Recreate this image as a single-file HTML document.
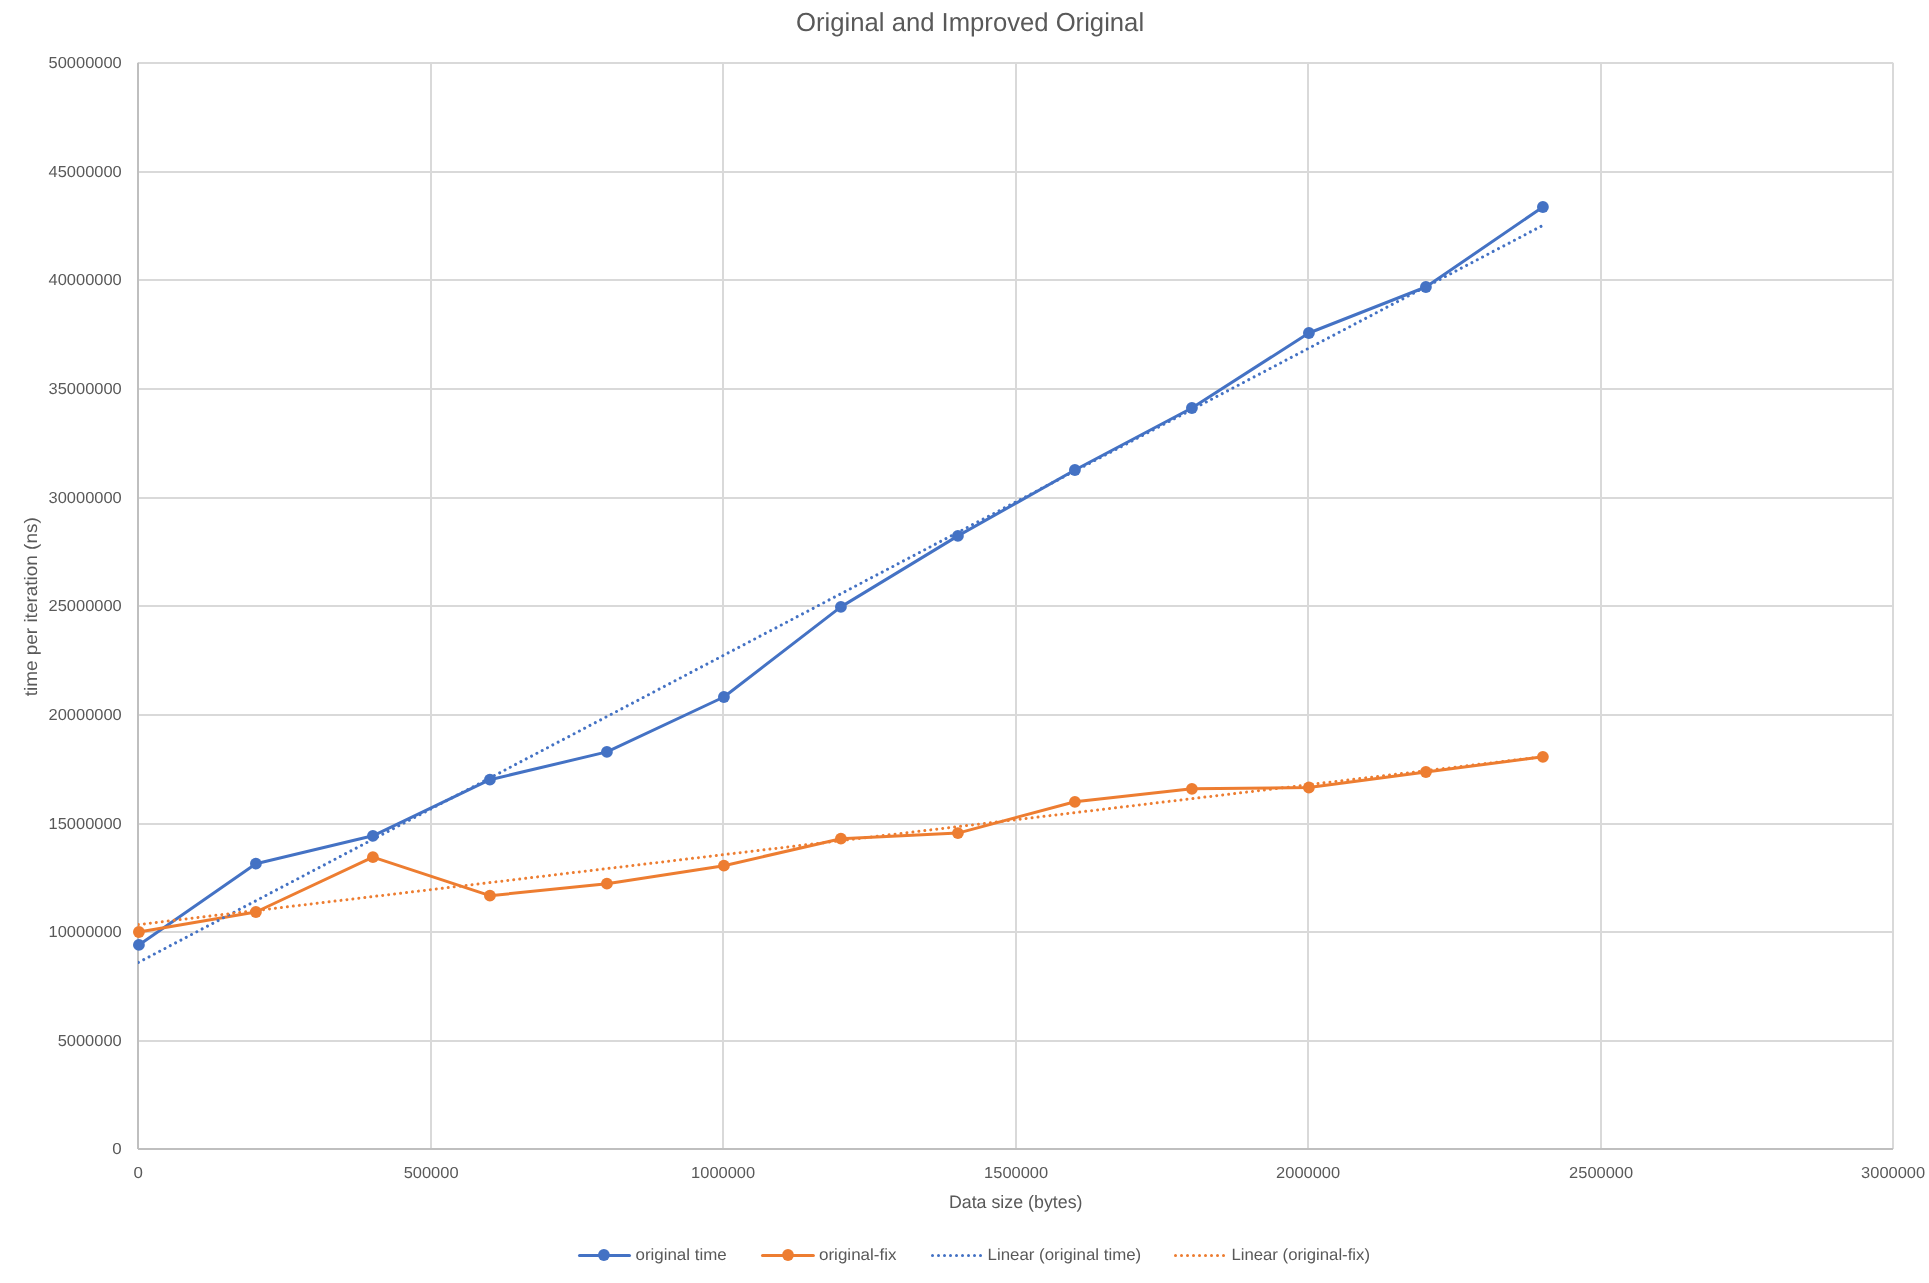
<!DOCTYPE html>
<html lang="en"><head><meta charset="utf-8"><title>Original and Improved Original</title>
<style>
html,body{margin:0;padding:0;background:#fff;}
body{width:1929px;height:1283px;overflow:hidden;}
svg{display:block;will-change:transform;}
text{font-family:"Liberation Sans",sans-serif;fill:#595959;text-rendering:geometricPrecision;}
.tick{font-size:15.9px;}
.atitle{font-size:18px;}
.leg{font-size:16.3px;}
.title{font-size:26px;}
</style></head><body>
<svg width="1929" height="1283" viewBox="0 0 1929 1283">
<rect x="0" y="0" width="1929" height="1283" fill="#ffffff"/>
<g stroke="#d9d9d9" stroke-width="2" fill="none">
<line x1="138.0" y1="1041" x2="1893.0" y2="1041"/>
<line x1="138.0" y1="932" x2="1893.0" y2="932"/>
<line x1="138.0" y1="824" x2="1893.0" y2="824"/>
<line x1="138.0" y1="715" x2="1893.0" y2="715"/>
<line x1="138.0" y1="606" x2="1893.0" y2="606"/>
<line x1="138.0" y1="498" x2="1893.0" y2="498"/>
<line x1="138.0" y1="389" x2="1893.0" y2="389"/>
<line x1="138.0" y1="280" x2="1893.0" y2="280"/>
<line x1="138.0" y1="172" x2="1893.0" y2="172"/>
<line x1="138.0" y1="63" x2="1893.0" y2="63"/>
<line x1="431" y1="62.75" x2="431" y2="1149.0"/>
<line x1="723" y1="62.75" x2="723" y2="1149.0"/>
<line x1="1016" y1="62.75" x2="1016" y2="1149.0"/>
<line x1="1308" y1="62.75" x2="1308" y2="1149.0"/>
<line x1="1601" y1="62.75" x2="1601" y2="1149.0"/>
<line x1="1893" y1="62.75" x2="1893" y2="1149.0"/>
</g>
<g stroke="#bfbfbf" stroke-width="2" fill="none">
<line x1="138.0" y1="62.70" x2="138.0" y2="1149.0"/>
<line x1="138.0" y1="1149.0" x2="1893.0" y2="1149.0"/>
</g>
<defs><clipPath id="pc"><rect x="138" y="60" width="1757" height="1092"/></clipPath></defs>
<polyline fill="none" stroke="#4472c4" stroke-width="3" stroke-linejoin="round" stroke-linecap="round" points="138.9,944.9 255.9,863.7 372.9,835.8 489.9,779.7 606.9,751.9 723.9,697.0 840.9,606.9 957.9,535.9 1074.9,470.0 1191.9,408.0 1308.9,333.0 1425.9,287.0 1542.9,207.0"/>
<g fill="#4472c4">
<circle cx="138.9" cy="944.9" r="5.9"/>
<circle cx="255.9" cy="863.7" r="5.9"/>
<circle cx="372.9" cy="835.8" r="5.9"/>
<circle cx="489.9" cy="779.7" r="5.9"/>
<circle cx="606.9" cy="751.9" r="5.9"/>
<circle cx="723.9" cy="697.0" r="5.9"/>
<circle cx="840.9" cy="606.9" r="5.9"/>
<circle cx="957.9" cy="535.9" r="5.9"/>
<circle cx="1074.9" cy="470.0" r="5.9"/>
<circle cx="1191.9" cy="408.0" r="5.9"/>
<circle cx="1308.9" cy="333.0" r="5.9"/>
<circle cx="1425.9" cy="287.0" r="5.9"/>
<circle cx="1542.9" cy="207.0" r="5.9"/>
</g>
<polyline fill="none" stroke="#ed7d31" stroke-width="3" stroke-linejoin="round" stroke-linecap="round" points="138.9,932.0 255.9,912.0 372.9,857.2 489.9,895.7 606.9,883.7 723.9,865.7 840.9,838.7 957.9,833.1 1074.9,801.8 1191.9,788.8 1308.9,787.5 1425.9,772.0 1542.9,756.8"/>
<g fill="#ed7d31">
<circle cx="138.9" cy="932.0" r="5.9"/>
<circle cx="255.9" cy="912.0" r="5.9"/>
<circle cx="372.9" cy="857.2" r="5.9"/>
<circle cx="489.9" cy="895.7" r="5.9"/>
<circle cx="606.9" cy="883.7" r="5.9"/>
<circle cx="723.9" cy="865.7" r="5.9"/>
<circle cx="840.9" cy="838.7" r="5.9"/>
<circle cx="957.9" cy="833.1" r="5.9"/>
<circle cx="1074.9" cy="801.8" r="5.9"/>
<circle cx="1191.9" cy="788.8" r="5.9"/>
<circle cx="1308.9" cy="787.5" r="5.9"/>
<circle cx="1425.9" cy="772.0" r="5.9"/>
<circle cx="1542.9" cy="756.8" r="5.9"/>
</g>
<line x1="138.4" y1="962.4" x2="1542.6" y2="225.5" stroke="#4472c4" stroke-width="3" stroke-linecap="round" stroke-dasharray="0.01 5.99" fill="none" clip-path="url(#pc)"/>
<line x1="138.4" y1="924.6" x2="1542.8" y2="756.7" stroke="#ed7d31" stroke-width="3" stroke-linecap="round" stroke-dasharray="0.01 5.99" fill="none" clip-path="url(#pc)"/>
<text class="tick" x="121.7" y="1154.3" text-anchor="end" textLength="9.4" lengthAdjust="spacingAndGlyphs">0</text>
<text class="tick" x="121.7" y="1046.3" text-anchor="end" textLength="64.0" lengthAdjust="spacingAndGlyphs">5000000</text>
<text class="tick" x="121.7" y="937.3" text-anchor="end" textLength="73.1" lengthAdjust="spacingAndGlyphs">10000000</text>
<text class="tick" x="121.7" y="829.3" text-anchor="end" textLength="73.1" lengthAdjust="spacingAndGlyphs">15000000</text>
<text class="tick" x="121.7" y="720.3" text-anchor="end" textLength="73.1" lengthAdjust="spacingAndGlyphs">20000000</text>
<text class="tick" x="121.7" y="611.3" text-anchor="end" textLength="73.1" lengthAdjust="spacingAndGlyphs">25000000</text>
<text class="tick" x="121.7" y="503.3" text-anchor="end" textLength="73.1" lengthAdjust="spacingAndGlyphs">30000000</text>
<text class="tick" x="121.7" y="394.3" text-anchor="end" textLength="73.1" lengthAdjust="spacingAndGlyphs">35000000</text>
<text class="tick" x="121.7" y="285.3" text-anchor="end" textLength="73.1" lengthAdjust="spacingAndGlyphs">40000000</text>
<text class="tick" x="121.7" y="177.3" text-anchor="end" textLength="73.1" lengthAdjust="spacingAndGlyphs">45000000</text>
<text class="tick" x="121.7" y="68.3" text-anchor="end" textLength="73.1" lengthAdjust="spacingAndGlyphs">50000000</text>
<text class="tick" x="138.1" y="1178" text-anchor="middle" textLength="9.4" lengthAdjust="spacingAndGlyphs">0</text>
<text class="tick" x="431.1" y="1178" text-anchor="middle" textLength="54.9" lengthAdjust="spacingAndGlyphs">500000</text>
<text class="tick" x="723.1" y="1178" text-anchor="middle" textLength="64.0" lengthAdjust="spacingAndGlyphs">1000000</text>
<text class="tick" x="1016.1" y="1178" text-anchor="middle" textLength="64.0" lengthAdjust="spacingAndGlyphs">1500000</text>
<text class="tick" x="1308.1" y="1178" text-anchor="middle" textLength="64.0" lengthAdjust="spacingAndGlyphs">2000000</text>
<text class="tick" x="1601.1" y="1178" text-anchor="middle" textLength="64.0" lengthAdjust="spacingAndGlyphs">2500000</text>
<text class="tick" x="1893.1" y="1178" text-anchor="middle" textLength="64.0" lengthAdjust="spacingAndGlyphs">3000000</text>
<text class="title" x="970.1" y="31.2" text-anchor="middle" textLength="348" lengthAdjust="spacingAndGlyphs">Original and Improved Original</text>
<text class="atitle" x="1015.7" y="1208" text-anchor="middle" textLength="133.6" lengthAdjust="spacingAndGlyphs">Data size (bytes)</text>
<text class="atitle" transform="translate(37 606.8) rotate(-90)" x="0" y="0" text-anchor="middle" textLength="179" lengthAdjust="spacingAndGlyphs">time per iteration (ns)</text>
<g stroke-width="3" fill="none" stroke-linecap="round">
<line x1="579.5" y1="1255.5" x2="629.5" y2="1255.5" stroke="#4472c4"/>
<line x1="762.5" y1="1255.5" x2="813.4" y2="1255.5" stroke="#ed7d31"/>
<line x1="932.5" y1="1255.5" x2="981" y2="1255.5" stroke="#4472c4" stroke-dasharray="0.01 5.99"/>
<line x1="1175.5" y1="1255.5" x2="1224" y2="1255.5" stroke="#ed7d31" stroke-dasharray="0.01 5.99"/>
</g>
<circle cx="603.9" cy="1255.0" r="5.9" fill="#4472c4"/>
<circle cx="788" cy="1255.0" r="5.9" fill="#ed7d31"/>
<text class="leg" x="635.5" y="1260" textLength="91.2" lengthAdjust="spacingAndGlyphs">original time</text>
<text class="leg" x="819.0" y="1260" textLength="77.5" lengthAdjust="spacingAndGlyphs">original-fix</text>
<text class="leg" x="987.6" y="1260" textLength="153.6" lengthAdjust="spacingAndGlyphs">Linear (original time)</text>
<text class="leg" x="1231.4" y="1260" textLength="138.6" lengthAdjust="spacingAndGlyphs">Linear (original-fix)</text>
</svg>
</body></html>
